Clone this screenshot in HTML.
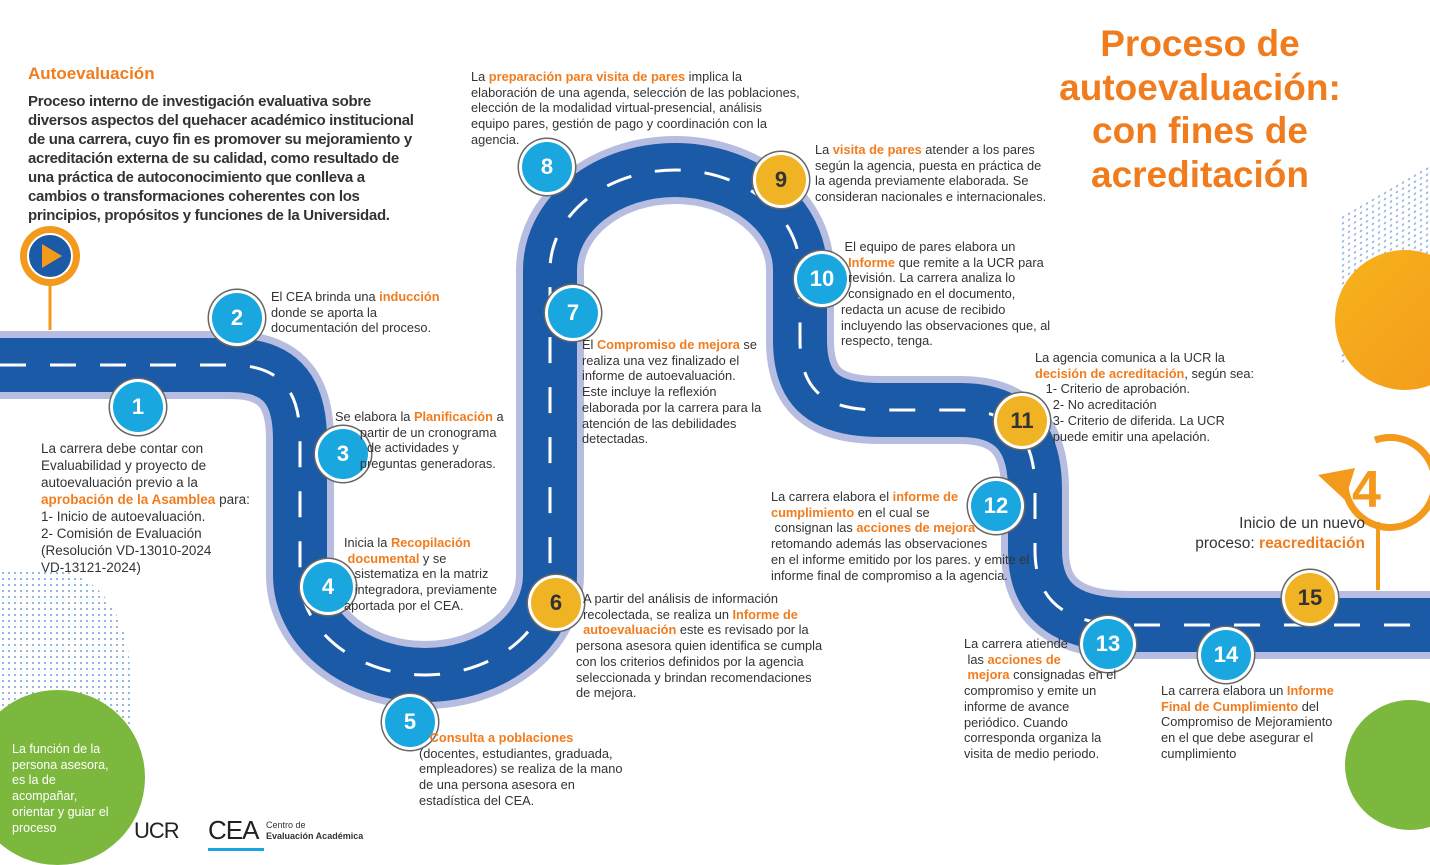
<!DOCTYPE html>
<html><head><meta charset="utf-8"><style>
body{margin:0;width:1430px;height:858px;position:relative;overflow:hidden;background:#fff;font-family:"Liberation Sans",sans-serif;color:#333}
.t{position:absolute;font-size:12.8px;line-height:15.7px;color:#333;white-space:nowrap}
.o{color:#f07c1e;font-weight:bold}
.c{position:absolute;width:50px;height:50px;border-radius:50%;background:#1aa7e0;color:#fff;font-weight:bold;font-size:22px;display:flex;align-items:center;justify-content:center;box-shadow:0 0 0 3px #fff,0 0 0 4.5px #666;transform:translate(-25px,-25px)}
.y{background:#f0b323;color:#333}
.dots{position:absolute;background-image:radial-gradient(#8fb6e0 1px,transparent 1.3px);background-size:6px 6px}
</style></head><body>
<div class="dots" style="left:1340px;top:190px;width:90px;height:150px;transform:skewY(-30deg)"></div>
<div class="dots" style="left:0;top:570px;width:130px;height:170px;border-radius:0 60% 0 0"></div>
<div style="position:absolute;left:1335px;top:250px;width:140px;height:140px;border-radius:50%;background:linear-gradient(135deg,#f7b21b,#f39a1c)"></div>
<div style="position:absolute;left:-30px;top:690px;width:175px;height:175px;border-radius:50%;background:#7cb83d"></div>
<div style="position:absolute;left:1345px;top:700px;width:130px;height:130px;border-radius:50%;background:#7cb83d"></div>
<svg style="position:absolute;left:0;top:0" width="1430" height="858">
<g fill="none">
<path d="M0,365 L230,365 C285,365 300,395 300,440 L300,575 A125 100 0 0 0 550,575 L550,270 A125 100 0 0 1 800,270 L800,340 C800,395 830,410 880,410 L960,410 C1015,410 1035,440 1035,490 L1035,550 C1035,605 1070,625 1130,625 L1430,625" stroke="#b7bde0" stroke-width="68"/>
<path d="M0,365 L230,365 C285,365 300,395 300,440 L300,575 A125 100 0 0 0 550,575 L550,270 A125 100 0 0 1 800,270 L800,340 C800,395 830,410 880,410 L960,410 C1015,410 1035,440 1035,490 L1035,550 C1035,605 1070,625 1130,625 L1430,625" stroke="#1b5aa6" stroke-width="54"/>
<path d="M0,365 L230,365 C285,365 300,395 300,440 L300,575 A125 100 0 0 0 550,575 L550,270 A125 100 0 0 1 800,270 L800,340 C800,395 830,410 880,410 L960,410 C1015,410 1035,440 1035,490 L1035,550 C1035,605 1070,625 1130,625 L1430,625" stroke="#fff" stroke-width="3" stroke-dasharray="26 24"/>
</g>
<line x1="50" y1="280" x2="50" y2="330" stroke="#f39a1c" stroke-width="3"/>
<circle cx="50" cy="256" r="30" fill="#f39a1c"/><circle cx="50" cy="256" r="22" fill="#1b5aa6" stroke="#fff" stroke-width="2"/>
<polygon points="42,244 42,268 62,256" fill="#f39a1c"/>
<path d="M1345,480 A45 45 0 1 0 1375,440" fill="none" stroke="#f39a1c" stroke-width="7"/>
<polygon points="1318,475 1345,500 1355,468" fill="#f39a1c"/>
<line x1="1378" y1="522" x2="1378" y2="590" stroke="#f39a1c" stroke-width="4"/>
<text x="1352" y="507" font-family="Liberation Sans" font-weight="bold" font-size="52" fill="#f39a1c">4</text>
</svg>
<div class="c" style="left:138px;top:407px">1</div>
<div class="c" style="left:237px;top:318px">2</div>
<div class="c" style="left:343px;top:454px">3</div>
<div class="c" style="left:328px;top:587px">4</div>
<div class="c" style="left:410px;top:722px">5</div>
<div class="c y" style="left:556px;top:603px">6</div>
<div class="c" style="left:573px;top:313px">7</div>
<div class="c" style="left:547px;top:167px">8</div>
<div class="c y" style="left:781px;top:180px">9</div>
<div class="c" style="left:822px;top:279px">10</div>
<div class="c y" style="left:1022px;top:421px">11</div>
<div class="c" style="left:996px;top:506px">12</div>
<div class="c" style="left:1108px;top:644px">13</div>
<div class="c" style="left:1226px;top:655px">14</div>
<div class="c y" style="left:1310px;top:598px">15</div>
<div style="position:absolute;left:1030px;top:22px;width:340px;text-align:center;color:#f07c1e;font-weight:bold;font-size:37px;line-height:43.5px">Proceso de autoevaluación: con fines de acreditación</div>
<div class="t" style="left:28px;top:66px;font-size:17px;color:#f07c1e;font-weight:bold">Autoevaluación</div>
<div class="t" style="left:28px;top:92px;font-size:15px;line-height:19px;font-weight:bold;color:#333;letter-spacing:-0.3px">Proceso interno de investigación evaluativa sobre<br>diversos aspectos del quehacer académico institucional<br>de una carrera, cuyo fin es promover su mejoramiento y<br>acreditación externa de su calidad, como resultado de<br>una práctica de autoconocimiento que conlleva a<br>cambios o transformaciones coherentes con los<br>principios, propósitos y funciones de la Universidad.</div>
<div class="t" style="left:41px;top:440px;font-size:13.5px;line-height:17px">La carrera debe contar con<br>Evaluabilidad y proyecto de<br>autoevaluación previo a la<br><span class="o">aprobación de la Asamblea</span> para:<br>1- Inicio de autoevaluación.<br>2- Comisión de Evaluación<br>(Resolución VD-13010-2024<br>VD-13121-2024)</div>
<div class="t" style="left:271px;top:289px">El CEA brinda una <span class="o">inducción</span><br>donde se aporta la<br>documentación del proceso.</div>
<div class="t" style="left:335px;top:409px">Se elabora la <span class="o">Planificación</span> a<br>&nbsp;&nbsp;&nbsp;&nbsp;&nbsp;&nbsp;&nbsp;partir de un cronograma<br>&nbsp;&nbsp;&nbsp;&nbsp;&nbsp;&nbsp;&nbsp;&nbsp;&nbsp;de actividades y<br>&nbsp;&nbsp;&nbsp;&nbsp;&nbsp;&nbsp;&nbsp;preguntas generadoras.</div>
<div class="t" style="left:344px;top:535px">Inicia la <span class="o">Recopilación<br>&nbsp;documental</span> y se<br>&nbsp;&nbsp;&nbsp;sistematiza en la matriz<br>&nbsp;&nbsp;&nbsp;integradora, previamente<br>aportada por el CEA.</div>
<div class="t" style="left:419px;top:730px"><span class="o">&nbsp;&nbsp;&nbsp;Consulta a poblaciones</span><br>(docentes, estudiantes, graduada,<br>empleadores) se realiza de la mano<br>de una persona asesora en<br>estadística del CEA.</div>
<div class="t" style="left:576px;top:591px">&nbsp;&nbsp;A partir del análisis de información<br>&nbsp;&nbsp;recolectada, se realiza un <span class="o">Informe de<br>&nbsp;&nbsp;autoevaluación</span> este es revisado por la<br>persona asesora quien identifica se cumpla<br>con los criterios definidos por la agencia<br>seleccionada y brindan recomendaciones<br>de mejora.</div>
<div class="t" style="left:582px;top:337px">El <span class="o">Compromiso de mejora</span> se<br>realiza una vez finalizado el<br>informe de autoevaluación.<br>Este incluye la reflexión<br>elaborada por la carrera para la<br>atención de las debilidades<br>detectadas.</div>
<div class="t" style="left:471px;top:69px">La <span class="o">preparación para visita de pares</span> implica la<br>elaboración de una agenda, selección de las poblaciones,<br>elección de la modalidad virtual-presencial, análisis<br>equipo pares, gestión de pago y coordinación con la<br>agencia.</div>
<div class="t" style="left:815px;top:142px">La <span class="o">visita de pares</span> atender a los pares<br>según la agencia, puesta en práctica de<br>la agenda previamente elaborada. Se<br>consideran nacionales e internacionales.</div>
<div class="t" style="left:841px;top:239px">&nbsp;El equipo de pares elabora un<br>&nbsp;&nbsp;<span class="o">Informe</span> que remite a la UCR para<br>&nbsp;&nbsp;revisión. La carrera analiza lo<br>&nbsp;&nbsp;consignado en el documento,<br>redacta un acuse de recibido<br>incluyendo las observaciones que, al<br>respecto, tenga.</div>
<div class="t" style="left:1035px;top:350px">La agencia comunica a la UCR la<br><span class="o">decisión de acreditación</span>, según sea:<br>&nbsp;&nbsp;&nbsp;1- Criterio de aprobación.<br>&nbsp;&nbsp;&nbsp;&nbsp;&nbsp;2- No acreditación<br>&nbsp;&nbsp;&nbsp;&nbsp;&nbsp;3- Criterio de diferida. La UCR<br>&nbsp;&nbsp;&nbsp;&nbsp;&nbsp;puede emitir una apelación.</div>
<div class="t" style="left:771px;top:489px">La carrera elabora el <span class="o">informe de</span><br><span class="o">cumplimiento</span> en el cual se<br>&nbsp;consignan las <span class="o">acciones de mejora</span><br>retomando además las observaciones<br>en el informe emitido por los pares. y emite el<br>informe final de compromiso a la agencia.</div>
<div class="t" style="left:964px;top:636px">La carrera atiende<br>&nbsp;las <span class="o">acciones de<br>&nbsp;mejora</span> consignadas en el<br>compromiso y emite un<br>informe de avance<br>periódico. Cuando<br>corresponda organiza la<br>visita de medio periodo.</div>
<div class="t" style="left:1161px;top:683px">La carrera elabora un <span class="o">Informe<br>Final de Cumplimiento</span> del<br>Compromiso de Mejoramiento<br>en el que debe asegurar el<br>cumplimiento</div>
<div class="t" style="left:1150px;top:514px;width:215px;text-align:right;font-size:15.5px;line-height:20px">Inicio de un nuevo<br>proceso: <span class="o">reacreditación</span></div>
<div class="t" style="left:12px;top:742px;color:#fff;font-size:12.5px">La función de la<br>persona asesora,<br>es la de<br>acompañar,<br>orientar y guiar el<br>proceso</div>
<div style="position:absolute;left:134px;top:818px;font-size:22px;color:#222;letter-spacing:-1px">UCR</div>
<div style="position:absolute;left:208px;top:815px;font-size:26px;color:#222;letter-spacing:-1px">CEA</div>
<div style="position:absolute;left:208px;top:848px;width:56px;height:3px;background:#1aa7e0"></div>
<div style="position:absolute;left:266px;top:820px;font-size:9px;line-height:11px;color:#333">Centro de<br><b>Evaluación Académica</b></div>
</body></html>
